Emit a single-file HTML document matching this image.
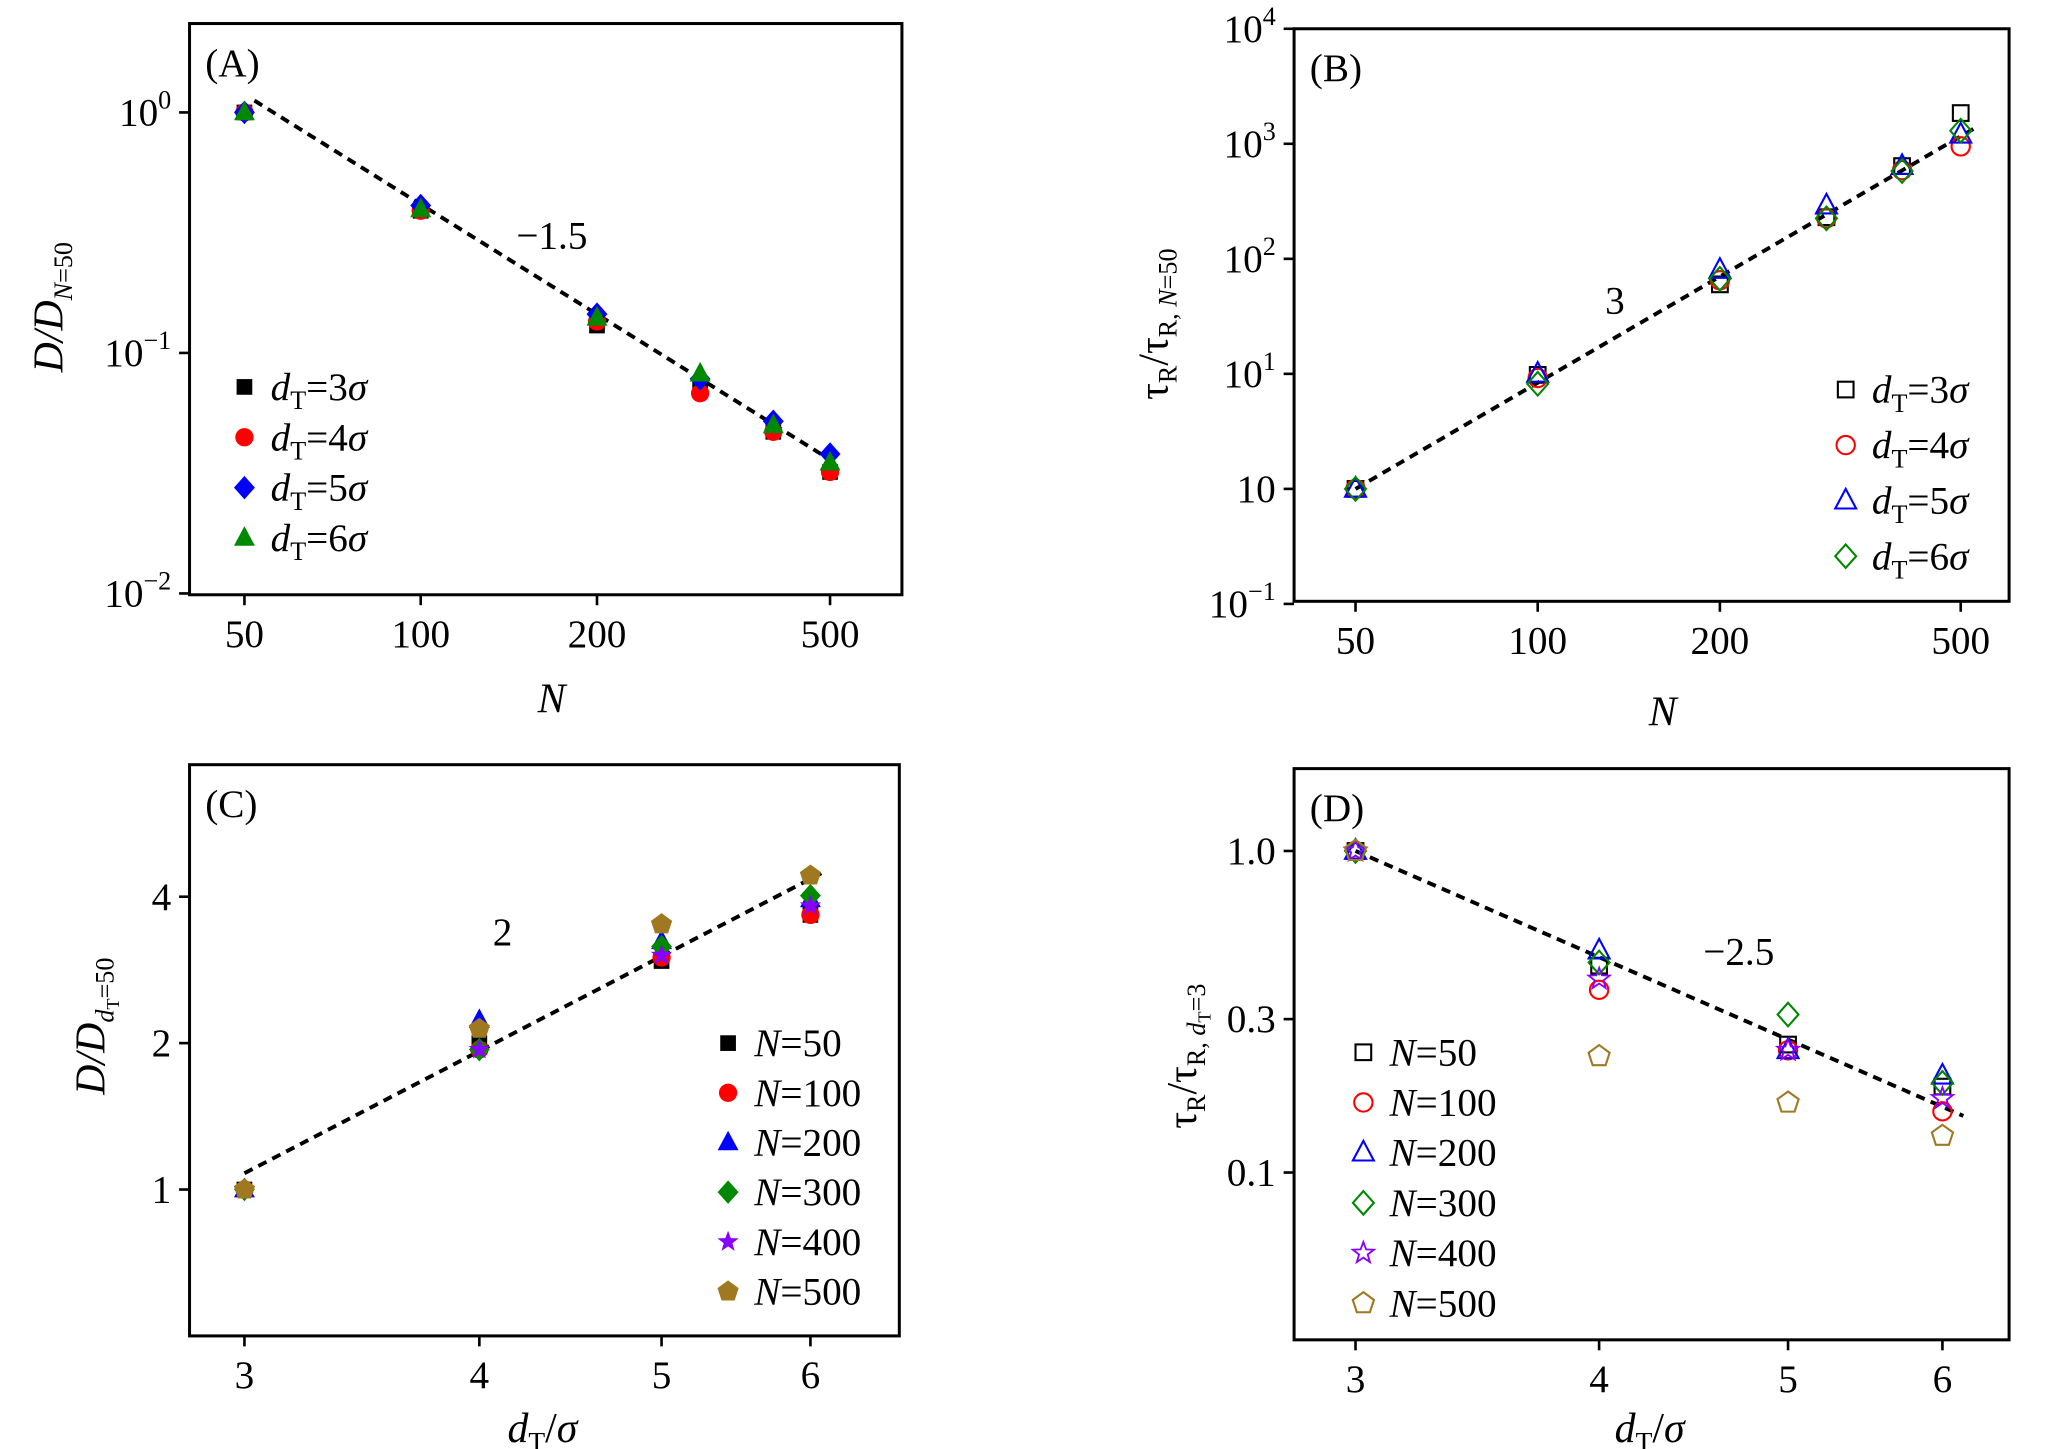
<!DOCTYPE html>
<html><head><meta charset="utf-8"><style>
html,body{margin:0;padding:0;background:#fff;}
svg{display:block;font-family:"Liberation Serif",serif;}
</style></head><body>
<svg id="fig" width="2047" height="1449" viewBox="0 0 1566 1108.5" xmlns="http://www.w3.org/2000/svg"></svg>
<script>
// Panel A data
const aN=[50,100,200,300,400,500];
const aS3=[1,0.39,0.13,0.072,0.047,0.032];
const aS4=[1,0.39,0.135,0.068,0.047,0.032];
const aS5=[1,0.41,0.145,0.078,0.052,0.038];
const aS6=[1,0.395,0.14,0.082,0.05,0.035];
const aLine=[[52,1.12],[500,0.036]];
// Panel B data
const bN=[50,100,200,300,400,500];
const bS3=[1,9.8,60,230,640,1850];
const bS4=[1,9.2,65,225,590,950];
const bS5=[1,10,80,290,640,1200];
const bS6=[1,8.2,67,225,580,1300];
const bLine=[[50,1],[525,1350]];
// Panel C data
const cD=[3,4,5,6];
const cN50=[1,2.0,2.95,3.67];
const cN100=[1,1.94,3.0,3.67];
const cN200=[1,2.23,3.24,3.95];
const cN300=[1,1.94,3.16,4.02];
const cN400=[1,1.94,3.03,3.83];
const cN500=[1,2.14,3.51,4.42];
const cLine=[[3,1.08],[6.08,4.47]];
// Panel D data
const dD=[3,4,5,6];
const dN50=[1,0.44,0.25,0.185];
const dN100=[1,0.37,0.24,0.155];
const dN200=[1,0.49,0.24,0.2];
const dN300=[1,0.45,0.31,0.19];
const dN400=[1,0.40,0.24,0.17];
const dN500=[1,0.23,0.165,0.13];
const dLine=[[3,1],[6.15,0.15]];

const NS="http://www.w3.org/2000/svg";
const svg=document.getElementById('fig');
function mk(tag,attrs,parent,text){const e=document.createElementNS(NS,tag);for(const k in attrs)e.setAttribute(k,attrs[k]);if(text!==undefined)e.textContent=text;(parent||svg).appendChild(e);return e;}
function logScale(v0,p0,v1,p1,ln){const f=ln?Math.log:Math.log10;return v=>p0+(f(v)-f(v0))/(f(v1)-f(v0))*(p1-p0);}

function marker(g,type,x,y,col,filled,name){
  let e;const fill=filled?col:'none';const sw=filled?0:1.6;
  if(type==='sq'){e=mk('rect',{x:x-6,y:y-6,width:12,height:12,fill:fill,stroke:col,'stroke-width':sw},g);}
  else if(type==='ci'){e=mk('circle',{cx:x,cy:y,r:7,fill:fill,stroke:col,'stroke-width':sw},g);}
  else if(type==='tr'){e=mk('polygon',{points:`${x},${y-9} ${x-8},${y+6} ${x+8},${y+6}`,fill:fill,stroke:col,'stroke-width':sw},g);}
  else if(type==='di'){e=mk('polygon',{points:`${x},${y-9} ${x+8},${y} ${x},${y+9} ${x-8},${y}`,fill:fill,stroke:col,'stroke-width':sw},g);}
  else if(type==='st'){let p=[];for(let i=0;i<10;i++){const r=i%2?3.5:8.5;const a=-Math.PI/2+i*Math.PI/5;p.push((x+r*Math.cos(a)).toFixed(1)+','+(y+r*Math.sin(a)).toFixed(1));}e=mk('polygon',{points:p.join(' '),fill:fill,stroke:col,'stroke-width':filled?0:1.4},g);}
  else if(type==='pe'){let p=[];for(let i=0;i<5;i++){const a=-Math.PI/2+i*2*Math.PI/5;p.push((x+8.5*Math.cos(a)).toFixed(1)+','+(y+8.5*Math.sin(a)).toFixed(1));}e=mk('polygon',{points:p.join(' '),fill:fill,stroke:col,'stroke-width':sw},g);}
  
  
  return e;
}

function panel(o){
  const g=mk('g',{});
  
  
  const frame=mk('rect',{x:o.x0,y:o.y0,width:o.x1-o.x0,height:o.y1-o.y0,fill:'none',stroke:'#000','stroke-width':2.3},g);
  
  
  o.xt.forEach((t,i)=>{const px=o.sx(t);
    const l=mk('line',{x1:px,y1:o.y1,x2:px,y2:o.y1+8,stroke:'#000','stroke-width':2},g);
    
    
    const tx=mk('text',{x:px,y:o.y1+40,'font-size':30,'text-anchor':'middle'},g,o.xtl[i]);
    
    });
  o.yt.forEach((t,i)=>{const py=o.sy(t);
    const l=mk('line',{x1:o.x0-8,y1:py,x2:o.x0,y2:py,stroke:'#000','stroke-width':2},g);
    
    
    const lab=o.ytl[i];
    const tx=mk('text',{x:o.x0-14,y:py+10,'font-size':30,'text-anchor':'end'},g);
    
    
    if(Array.isArray(lab)){mk('tspan',{},tx,lab[0]);mk('tspan',{dy:-13,'font-size':20},tx,lab[1]);}
    else tx.textContent=lab;});
  const dl=mk('line',{x1:o.sx(o.line[0][0]),y1:o.sy(o.line[0][1]),x2:o.sx(o.line[1][0]),y2:o.sy(o.line[1][1]),stroke:'#000','stroke-width':3,'stroke-dasharray':'7,5'},g);
  
  
  o.series.forEach(s=>{
    const sg=mk('g',{},g);
    
    
    s.y.forEach((v,i)=>marker(sg,s.m,o.sx(o.xs[i]),o.sy(v),s.c,o.filled,'point'));
  });
  o.series.forEach((s,i)=>{
    const lx=o.legX, ly=o.legY+i*o.legDy;
    const lg=mk('g',{},g);
    
    
    marker(lg,s.m,lx,ly,s.c,o.filled,'legend-marker');
    const t=mk('text',{x:lx+20,y:ly+10,'font-size':30},lg);
    s.lab(t);
  });
  const pl=mk('text',{x:o.x0+12,y:o.y0+40,'font-size':30},g,o.label);
  
  
  const sl=mk('text',{x:o.slx,y:o.sly,'font-size':30},g,o.slope);
  
  
  return g;
}
function labDT(n){return t=>{mk('tspan',{'font-style':'italic'},t,'d');mk('tspan',{'font-size':20,dy:7},t,'T');mk('tspan',{dy:-7},t,'='+n);mk('tspan',{'font-style':'italic'},t,'σ');};}
function labN(n){return t=>{mk('tspan',{'font-style':'italic'},t,'N');mk('tspan',{},t,'='+n);};}

const cols=['#000','#f00','#00f','#080','#80f','#a07820'];

panel({name:'panel-a',x0:145,y0:18,x1:690,y1:455,sx:logScale(50,187,500,635),sy:logScale(1,86,0.1,270),
  xt:[50,100,200,500],xtl:['50','100','200','500'],yt:[1,0.1,0.01],ytl:[['10','0'],['10','−1'],['10','−2']],
  xs:aN,line:aLine,filled:true,label:'(A)',slope:'−1.5',slx:395,sly:190,legX:187,legY:296,legDy:38.5,
  series:[{name:'series-dt3',y:aS3,m:'sq',c:cols[0],lab:labDT(3)},{name:'series-dt4',y:aS4,m:'ci',c:cols[1],lab:labDT(4)},
  {name:'series-dt6',y:aS6,m:'tr',c:cols[3],lab:labDT(6)},{name:'series-dt5',y:aS5,m:'di',c:cols[2],lab:labDT(5)}].slice(0,2).concat([{name:'series-dt5',y:aS5,m:'di',c:cols[2],lab:labDT(5)},{name:'series-dt6',y:aS6,m:'tr',c:cols[3],lab:labDT(6)}])});
panel({name:'panel-b',x0:990,y0:22,x1:1537,y1:460,sx:logScale(50,1037,500,1500),sy:logScale(1,374,10,286),
  xt:[50,100,200,500],xtl:['50','100','200','500'],yt:[1e4,1e3,100,10,1,0.1],ytl:[['10','4'],['10','3'],['10','2'],['10','1'],'10',['10','−1']],
  xs:bN,line:bLine,filled:false,label:'(B)',slope:'3',slx:1228,sly:240,legX:1412,legY:298,legDy:42.5,
  series:[{name:'series-dt3',y:bS3,m:'sq',c:cols[0],lab:labDT(3)},{name:'series-dt4',y:bS4,m:'ci',c:cols[1],lab:labDT(4)},
  {name:'series-dt5',y:bS5,m:'tr',c:cols[2],lab:labDT(5)},{name:'series-dt6',y:bS6,m:'di',c:cols[3],lab:labDT(6)}]});
panel({name:'panel-c',x0:145,y0:585,x1:688,y1:1022,sx:logScale(3,187,6,620,true),sy:logScale(1,910,4,686,true),
  xt:[3,4,5,6],xtl:['3','4','5','6'],yt:[4,2,1],ytl:['4','2','1'],
  xs:cD,line:cLine,filled:true,label:'(C)',slope:'2',slx:377,sly:723,legX:557,legY:798,legDy:38,
  series:[{name:'series-n50',y:cN50,m:'sq',c:cols[0],lab:labN(50)},{name:'series-n100',y:cN100,m:'ci',c:cols[1],lab:labN(100)},
  {name:'series-n200',y:cN200,m:'tr',c:cols[2],lab:labN(200)},{name:'series-n300',y:cN300,m:'di',c:cols[3],lab:labN(300)},
  {name:'series-n400',y:cN400,m:'st',c:cols[4],lab:labN(400)},{name:'series-n500',y:cN500,m:'pe',c:cols[5],lab:labN(500)}]});
panel({name:'panel-d',x0:990,y0:588,x1:1537,y1:1025,sx:logScale(3,1037,6,1486,true),sy:logScale(1,651,0.1,897),
  xt:[3,4,5,6],xtl:['3','4','5','6'],yt:[1,0.3,0.1],ytl:['1.0','0.3','0.1'],
  xs:dD,line:dLine,filled:false,label:'(D)',slope:'−2.5',slx:1303,sly:738,legX:1043,legY:805,legDy:38.4,
  series:[{name:'series-n50',y:dN50,m:'sq',c:cols[0],lab:labN(50)},{name:'series-n100',y:dN100,m:'ci',c:cols[1],lab:labN(100)},
  {name:'series-n200',y:dN200,m:'tr',c:cols[2],lab:labN(200)},{name:'series-n300',y:dN300,m:'di',c:cols[3],lab:labN(300)},
  {name:'series-n400',y:dN400,m:'st',c:cols[4],lab:labN(400)},{name:'series-n500',y:dN500,m:'pe',c:cols[5],lab:labN(500)}]});

// axis titles
function title(x,y,rot,name,build){const t=mk('text',{x:x,y:y,'font-size':32,'text-anchor':'middle',transform:rot?`rotate(-90 ${x} ${y})`:''});
  
  
  build(t);}
title(422,545,false,'x-axis-title-a',t=>{mk('tspan',{'font-style':'italic'},t,'N');});
title(1272,555,false,'x-axis-title-b',t=>{mk('tspan',{'font-style':'italic'},t,'N');});
function dTs(t){mk('tspan',{'font-style':'italic'},t,'d');mk('tspan',{'font-size':21,dy:7},t,'T');mk('tspan',{dy:-7},t,'/');mk('tspan',{'font-style':'italic'},t,'σ');}
title(415,1103,false,'x-axis-title-c',dTs);
title(1262,1103,false,'x-axis-title-d',dTs);
title(48,235,true,'y-axis-title-a',t=>{mk('tspan',{'font-style':'italic'},t,'D/D');mk('tspan',{'font-size':20,dy:7,'font-style':'italic'},t,'N');mk('tspan',{'font-size':20},t,'=50');});
title(893,248,true,'y-axis-title-b',t=>{mk('tspan',{},t,'τ');mk('tspan',{'font-size':20,dy:7},t,'R');mk('tspan',{dy:-7},t,'/τ');mk('tspan',{'font-size':20,dy:7},t,'R, ');mk('tspan',{'font-size':20,'font-style':'italic'},t,'N');mk('tspan',{'font-size':20},t,'=50');});
title(80,785,true,'y-axis-title-c',t=>{mk('tspan',{'font-style':'italic'},t,'D/D');mk('tspan',{'font-size':20,dy:7,'font-style':'italic'},t,'d');mk('tspan',{'font-size':14,dy:4},t,'T');mk('tspan',{'font-size':20,dy:-4},t,'=50');});
title(915,808,true,'y-axis-title-d',t=>{mk('tspan',{},t,'τ');mk('tspan',{'font-size':20,dy:7},t,'R');mk('tspan',{dy:-7},t,'/τ');mk('tspan',{'font-size':20,dy:7},t,'R, ');mk('tspan',{'font-size':20,'font-style':'italic'},t,'d');mk('tspan',{'font-size':14,dy:4},t,'T');mk('tspan',{'font-size':20,dy:-4},t,'=3');});
</script>
</body></html>
